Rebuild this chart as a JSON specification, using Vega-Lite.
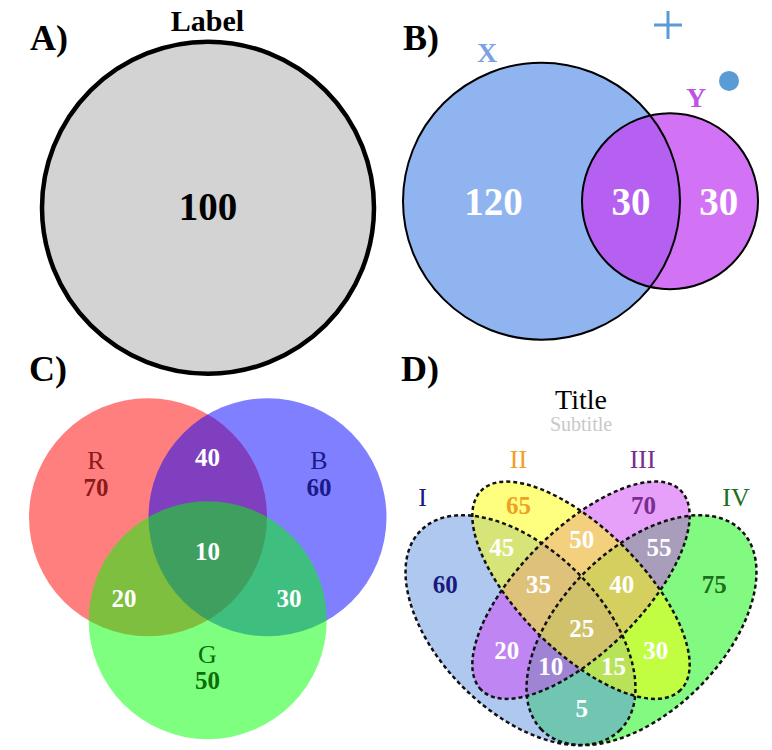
{
  "$schema": "https://vega.github.io/schema/vega-lite/v6.json",
  "width": 772,
  "height": 750,
  "autosize": {"type": "fit", "contains": "padding"},
  "padding": 0,
  "background": "white",
  "config": {"view": {"stroke": null}},
  "datasets": {
    "shapes": [
      {"set": "Label", "x": 208, "y": 208, "r": 166, "tilt": 0},
      {"set": "X", "x": 541.5, "y": 201.5, "r": 138.5, "tilt": 0},
      {"set": "Y", "x": 670, "y": 201.5, "r": 88, "tilt": 0},
      {"set": "dot", "x": 729, "y": 81, "r": 10, "tilt": 0},
      {"set": "plus", "x": 668, "y": 25, "r": 14, "tilt": 0},
      {"set": "R", "x": 148, "y": 518, "r": 119, "tilt": 0},
      {"set": "B", "x": 267.5, "y": 518, "r": 119, "tilt": 0},
      {"set": "G", "x": 207.7, "y": 621, "r": 119, "tilt": 0},
      {"set": "IV", "x": 641.5, "y": 631, "r": 141, "tilt": 135},
      {"set": "I", "x": 520.5, "y": 631, "r": 141, "tilt": 45},
      {"set": "III", "x": 581, "y": 591, "r": 141, "tilt": 135},
      {"set": "II", "x": 581, "y": 591, "r": 141, "tilt": 45}
    ],
    "labels": [
      {"text": "A)", "x": 49, "y": 50, "kind": "panel", "tone": "plain"},
      {"text": "B)", "x": 421, "y": 50, "kind": "panel", "tone": "plain"},
      {"text": "C)", "x": 48, "y": 382, "kind": "panel", "tone": "plain"},
      {"text": "D)", "x": 420, "y": 382, "kind": "panel", "tone": "plain"},
      {"text": "Label", "x": 207.5, "y": 31, "kind": "heading", "tone": "plain"},
      {"text": "100", "x": 208, "y": 220, "kind": "big", "tone": "plain"},
      {"text": "120", "x": 493.5, "y": 215, "kind": "big", "tone": "inside"},
      {"text": "30", "x": 631, "y": 215, "kind": "big", "tone": "inside"},
      {"text": "30", "x": 718.7, "y": 215, "kind": "big", "tone": "inside"},
      {"text": "X", "x": 487, "y": 61.7, "kind": "setbold", "tone": "X"},
      {"text": "Y", "x": 696, "y": 107, "kind": "setbold", "tone": "Y"},
      {"text": "R", "x": 96, "y": 470, "kind": "name", "tone": "R"},
      {"text": "70", "x": 96, "y": 497, "kind": "count", "tone": "R"},
      {"text": "B", "x": 319, "y": 470, "kind": "name", "tone": "B"},
      {"text": "60", "x": 319, "y": 497, "kind": "count", "tone": "B"},
      {"text": "G", "x": 207.5, "y": 664, "kind": "name", "tone": "G"},
      {"text": "50", "x": 207.5, "y": 690, "kind": "count", "tone": "G"},
      {"text": "40", "x": 207.5, "y": 467, "kind": "count", "tone": "inside"},
      {"text": "10", "x": 207.5, "y": 561, "kind": "count", "tone": "inside"},
      {"text": "20", "x": 124, "y": 608, "kind": "count", "tone": "inside"},
      {"text": "30", "x": 289, "y": 608, "kind": "count", "tone": "inside"},
      {"text": "Title", "x": 581, "y": 410, "kind": "title", "tone": "plain"},
      {"text": "Subtitle", "x": 581, "y": 431.7, "kind": "subtitle", "tone": "muted"},
      {"text": "I", "x": 422.7, "y": 506.7, "kind": "name", "tone": "I"},
      {"text": "II", "x": 518.5, "y": 468.3, "kind": "name", "tone": "II"},
      {"text": "III", "x": 642.7, "y": 468.3, "kind": "name", "tone": "III"},
      {"text": "IV", "x": 736, "y": 506.7, "kind": "name", "tone": "IV"},
      {"text": "60", "x": 445.2, "y": 593.3, "kind": "count", "tone": "I"},
      {"text": "65", "x": 518.5, "y": 515, "kind": "count", "tone": "II"},
      {"text": "70", "x": 643.5, "y": 515, "kind": "count", "tone": "III"},
      {"text": "75", "x": 714.3, "y": 593.3, "kind": "count", "tone": "IV"},
      {"text": "45", "x": 501.8, "y": 556.7, "kind": "count", "tone": "inside"},
      {"text": "50", "x": 581.8, "y": 548.3, "kind": "count", "tone": "inside"},
      {"text": "55", "x": 659, "y": 556.7, "kind": "count", "tone": "inside"},
      {"text": "35", "x": 538.5, "y": 593.3, "kind": "count", "tone": "inside"},
      {"text": "40", "x": 621.8, "y": 593.3, "kind": "count", "tone": "inside"},
      {"text": "25", "x": 581.8, "y": 638.3, "kind": "count", "tone": "inside"},
      {"text": "20", "x": 506.8, "y": 660, "kind": "count", "tone": "inside"},
      {"text": "30", "x": 655.8, "y": 660, "kind": "count", "tone": "inside"},
      {"text": "10", "x": 550.8, "y": 676, "kind": "count", "tone": "inside"},
      {"text": "15", "x": 613.5, "y": 676, "kind": "count", "tone": "inside"},
      {"text": "5", "x": 581.7, "y": 718.3, "kind": "count", "tone": "inside"}
    ]
  },
  "encoding": {
    "x": {"field": "x", "type": "quantitative", "scale": {"domain": [0, 772], "nice": false, "zero": false}, "axis": null},
    "y": {"field": "y", "type": "quantitative", "scale": {"domain": [0, 750], "nice": false, "zero": false, "reverse": true}, "axis": null}
  },
  "layer": [
    {
      "data": {"name": "shapes"},
      "encoding": {
        "shape": {
          "field": "set", "type": "nominal", "legend": null,
          "scale": {
            "domain": ["Label", "X", "Y", "R", "B", "G", "I", "II", "III", "IV", "plus", "dot"],
            "range": ["circle", "circle", "circle", "circle", "circle", "circle",
              "M1,0C1,0.317,0.552,0.574,0,0.574C-0.552,0.574,-1,0.317,-1,0C-1,-0.317,-0.552,-0.574,0,-0.574C0.552,-0.574,1,-0.317,1,0Z",
              "M1,0C1,0.239,0.552,0.433,0,0.433C-0.552,0.433,-1,0.239,-1,0C-1,-0.239,-0.552,-0.433,0,-0.433C0.552,-0.433,1,-0.239,1,0Z",
              "M1,0C1,0.239,0.552,0.433,0,0.433C-0.552,0.433,-1,0.239,-1,0C-1,-0.239,-0.552,-0.433,0,-0.433C0.552,-0.433,1,-0.239,1,0Z",
              "M1,0C1,0.317,0.552,0.574,0,0.574C-0.552,0.574,-1,0.317,-1,0C-1,-0.317,-0.552,-0.574,0,-0.574C0.552,-0.574,1,-0.317,1,0Z",
              "M-1,0L1,0M0,-1L0,1",
              "circle"]
          }
        },
        "size": {"field": "r", "type": "quantitative", "legend": null, "scale": {"type": "pow", "exponent": 2, "domain": [0, 200], "range": [0, 160000]}},
        "angle": {"field": "tilt", "type": "quantitative", "scale": null}
      },
      "layer": [
        {
          "transform": [{"filter": {"field": "set", "oneOf": ["Label", "X", "dot"]}}],
          "mark": {"type": "point", "filled": true, "opacity": 1, "strokeWidth": 0},
          "encoding": {"color": {"field": "set", "type": "nominal", "legend": null,
            "scale": {"domain": ["Label", "X", "Y", "R", "B", "G", "I", "II", "III", "IV", "dot"],
              "range": ["#d3d3d3", "#90b4f0", "#c344f1", "#ff0000", "#0000ff", "#00ff00", "#5f91e1", "#ffff00", "#cd41f5", "#05f505", "#5b9bd5"]}}}
        },
        {
          "transform": [{"filter": {"field": "set", "oneOf": ["Y"]}}],
          "mark": {"type": "point", "filled": true, "opacity": 0.75, "strokeWidth": 0},
          "encoding": {"color": {"field": "set", "type": "nominal", "legend": null,
            "scale": {"domain": ["Label", "X", "Y", "R", "B", "G", "I", "II", "III", "IV", "dot"],
              "range": ["#d3d3d3", "#90b4f0", "#c344f1", "#ff0000", "#0000ff", "#00ff00", "#5f91e1", "#ffff00", "#cd41f5", "#05f505", "#5b9bd5"]}}}
        },
        {
          "transform": [{"filter": {"field": "set", "oneOf": ["R", "B", "G", "I", "II", "III", "IV"]}}],
          "mark": {"type": "point", "filled": true, "opacity": 0.5, "strokeWidth": 0},
          "encoding": {"color": {"field": "set", "type": "nominal", "legend": null,
            "scale": {"domain": ["Label", "X", "Y", "R", "B", "G", "I", "II", "III", "IV", "dot"],
              "range": ["#d3d3d3", "#90b4f0", "#c344f1", "#ff0000", "#0000ff", "#00ff00", "#5f91e1", "#ffff00", "#cd41f5", "#05f505", "#5b9bd5"]}}}
        },
        {
          "transform": [{"filter": {"field": "set", "oneOf": ["Label"]}}],
          "mark": {"type": "point", "filled": false, "stroke": "#000000", "strokeWidth": 4.5, "opacity": 1}
        },
        {
          "transform": [{"filter": {"field": "set", "oneOf": ["X", "Y"]}}],
          "mark": {"type": "point", "filled": false, "stroke": "#000000", "strokeWidth": 2, "opacity": 1}
        },
        {
          "transform": [{"filter": {"field": "set", "oneOf": ["I", "II", "III", "IV"]}}],
          "mark": {"type": "point", "filled": false, "stroke": "#111111", "strokeWidth": 2.5, "strokeDash": [4, 3], "opacity": 1}
        },
        {
          "transform": [{"filter": {"field": "set", "oneOf": ["plus"]}}],
          "mark": {"type": "point", "filled": false, "stroke": "#5b9bd5", "strokeWidth": 3, "opacity": 1}
        }
      ]
    },
    {
      "data": {"name": "labels"},
      "encoding": {
        "text": {"field": "text", "type": "nominal"},
        "color": {"field": "tone", "type": "nominal", "legend": null,
          "scale": {"domain": ["plain", "inside", "X", "Y", "R", "B", "G", "I", "II", "III", "IV", "muted"],
            "range": ["#000000", "#ffffff", "#7aa2e2", "#bf52e6", "#8b1a1a", "#1a1a8b", "#0a6e0a", "#1a1a80", "#f0a020", "#7a2d8f", "#1e6e1e", "#c8c8c8"]}}
      },
      "layer": [
        {"transform": [{"filter": {"field": "kind", "equal": "panel"}}],
         "mark": {"type": "text", "font": "Liberation Serif", "fontWeight": "bold", "fontSize": 36, "align": "center", "baseline": "alphabetic"}},
        {"transform": [{"filter": {"field": "kind", "equal": "heading"}}],
         "mark": {"type": "text", "font": "Liberation Serif", "fontWeight": "bold", "fontSize": 30, "align": "center", "baseline": "alphabetic"}},
        {"transform": [{"filter": {"field": "kind", "equal": "big"}}],
         "mark": {"type": "text", "font": "Liberation Serif", "fontWeight": "bold", "fontSize": 39, "align": "center", "baseline": "alphabetic"}},
        {"transform": [{"filter": {"field": "kind", "equal": "setbold"}}],
         "mark": {"type": "text", "font": "Liberation Serif", "fontWeight": "bold", "fontSize": 28, "align": "center", "baseline": "alphabetic"}},
        {"transform": [{"filter": {"field": "kind", "equal": "name"}}],
         "mark": {"type": "text", "font": "Liberation Serif", "fontWeight": "normal", "fontSize": 26, "align": "center", "baseline": "alphabetic"}},
        {"transform": [{"filter": {"field": "kind", "equal": "count"}}],
         "mark": {"type": "text", "font": "Liberation Serif", "fontWeight": "bold", "fontSize": 25, "align": "center", "baseline": "alphabetic"}},
        {"transform": [{"filter": {"field": "kind", "equal": "title"}}],
         "mark": {"type": "text", "font": "Liberation Serif", "fontWeight": "normal", "fontSize": 28, "align": "center", "baseline": "alphabetic"}},
        {"transform": [{"filter": {"field": "kind", "equal": "subtitle"}}],
         "mark": {"type": "text", "font": "Liberation Serif", "fontWeight": "normal", "fontSize": 20, "align": "center", "baseline": "alphabetic"}}
      ]
    }
  ],
  "resolve": {"scale": {"color": "independent"}}
}
